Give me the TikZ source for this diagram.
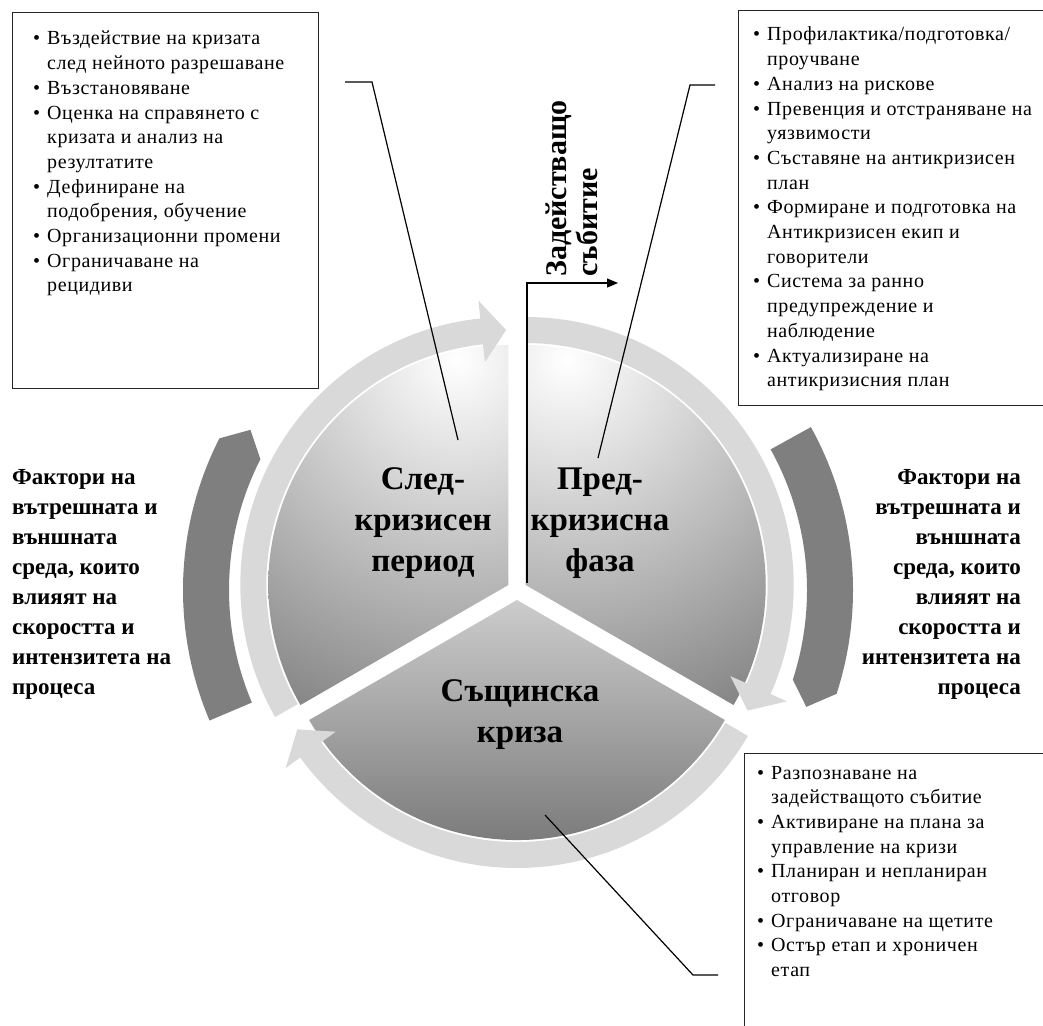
\documentclass[tikz,border=0pt]{standalone}
\usepackage{fontspec}
\setmainfont{Liberation Serif}
\newfontfamily\listfont[LetterSpace=3]{Liberation Serif}
\usetikzlibrary{arrows.meta,calc}

\definecolor{ringgray}{HTML}{D9D9D9}
\definecolor{arcgray}{HTML}{7F7F7F}

\newcommand{\bl}{\par\hangindent=14pt\hangafter=1\noindent\makebox[14pt][l]{\textbullet}}

\tikzset{
  listbox/.style={draw=black!85, line width=1.4pt, inner sep=0pt, anchor=north west},
  bulletlist/.style={inner sep=0pt, anchor=base west, font=\listfont\fontsize{20}{24.7}\selectfont},
  phaselabel/.style={inner sep=0pt, anchor=base, font=\fontsize{33}{41}\selectfont\bfseries},
  factortext/.style={inner sep=0pt, font=\fontsize{23}{30}\selectfont\bfseries},
  leader/.style={line width=1.2pt},
  ring/.style={fill=ringgray},
  darkarc/.style={fill=arcgray},
}

\begin{document}
\begin{tikzpicture}[x=1pt, y=1pt]
  \clip (0,0) rectangle (1043,-1025);
  \fill[white] (0,0) rectangle (1043,-1025);

  % centre of the cycle and of the three pieces
  \coordinate (c) at (517,-590);
  \coordinate (cpost) at (508.3,-585);
  \coordinate (cpre) at (525.7,-585);
  \coordinate (ccrisis) at (517,-600);

  % outer dark arcs
  \begin{scope}[shift={(c)}]
    \fill[darkarc] (203:334) arc[start angle=203, end angle=153, radius=334]
      -- (149:311) -- (153:288) arc[start angle=153, end angle=203, radius=288] -- cycle;
    \fill[darkarc] (29:336) arc[start angle=29, end angle=-18, radius=336]
      -- (-22:312) -- (-18:290) arc[start angle=-18, end angle=29, radius=290] -- cycle;
  \end{scope}

  % post-crisis piece
  \begin{scope}
    \clip (cpost) -- ++(90:240) arc[start angle=90, end angle=210, radius=240] -- cycle;
    \shade[inner color=white, outer color=black!50] ($(c)+(-60,230)$) circle (400);
  \end{scope}
  \begin{scope}[shift={(cpost)}]
    \fill[ring] (209.5:268) arc[start angle=209.5, end angle=96, radius=268]
      -- (96:286) -- (90.5:255) -- (96:224) -- (96:242)
      arc[start angle=96, end angle=209.5, radius=242] -- cycle;
  \end{scope}

  % pre-crisis piece
  \begin{scope}
    \clip (cpre) -- ++(-30:240) arc[start angle=-30, end angle=90, radius=240] -- cycle;
    \shade[inner color=white, outer color=black!50] ($(c)+(50,230)$) circle (400);
  \end{scope}
  \begin{scope}[shift={(cpre)}]
    \fill[ring] (89.5:268) arc[start angle=89.5, end angle=-24, radius=268]
      -- (-24:286) -- (-29.5:255) -- (-24:224) -- (-24:242)
      arc[start angle=-24, end angle=89.5, radius=242] -- cycle;
  \end{scope}

  % crisis piece
  \begin{scope}
    \clip (ccrisis) -- ++(210:240) arc[start angle=210, end angle=330, radius=240] -- cycle;
    \shade[top color=black!20, bottom color=black!52] (270,-600) rectangle (770,-845);
  \end{scope}
  \begin{scope}[shift={(ccrisis)}]
    \fill[ring] (329.5:268) arc[start angle=329.5, end angle=216, radius=268]
      -- (216:286) -- (210.5:255) -- (216:224) -- (216:242)
      arc[start angle=216, end angle=329.5, radius=242] -- cycle;
  \end{scope}

  % phase labels
  \node (postlabel) [phaselabel] at (423,-489) {\begin{minipage}[t]{180pt}\centering
    След-\\кризисен\\период\end{minipage}};
  \node (prelabel) [phaselabel] at (600,-489) {\begin{minipage}[t]{180pt}\centering
    Пред-\\кризисна\\фаза\end{minipage}};
  \node (crisislabel) [phaselabel] at (520,-701) {\begin{minipage}[t]{220pt}\centering
    Същинска\\криза\end{minipage}};

  % factors on both sides
  \node (factorsleft) [factortext, anchor=base west] at (12,-484) {\begin{minipage}[t]{190pt}\raggedright
    Фактори на\\вътрешната и\\външната\\среда, които\\влияят на\\скоростта и\\интензитета на\\процеса\end{minipage}};
  \node (factorsright) [factortext, anchor=base east] at (1021,-484) {\begin{minipage}[t]{190pt}\raggedleft
    Фактори на\\вътрешната и\\външната\\среда, които\\влияят на\\скоростта и\\интензитета на\\процеса\end{minipage}};

  % trigger event
  \coordinate (trigger-a) at (527,-583);
  \coordinate (trigger-b) at (618,-283);
  \draw[leader, -{Triangle[length=11pt, width=9pt]}] (trigger-a) |- (trigger-b);
  \node (triggertext) [rotate=90, anchor=base west, inner sep=0pt, font=\fontsize{30}{31}\selectfont\bfseries]
    at (566,-277) {\begin{minipage}[t]{220pt}\raggedright Задействащо\\събитие\end{minipage}};

  % list boxes
  \node (postbox) [listbox, minimum width=306pt, minimum height=376pt] at (12,-12) {};
  \node (prebox) [listbox, minimum width=320pt, minimum height=395pt] at (738,-10) {};
  \node (crisisbox) [listbox, minimum width=320pt, minimum height=300pt] at (744,-753) {};

  \node (postlist) [bulletlist] at (33,-45) {\begin{minipage}[t]{282pt}\raggedright
    \bl Въздействие на кризата\newline след нейното разрешаване
    \bl Възстановяване
    \bl Оценка на справянето с\newline кризата и анализ на\newline резултатите
    \bl Дефиниране на\newline подобрения, обучение
    \bl Организационни промени
    \bl Ограничаване на\newline рецидиви
  \end{minipage}};

  \node (prelist) [bulletlist] at (753,-41) {\begin{minipage}[t]{300pt}\raggedright
    \bl Профилактика/подготовка/\newline проучване
    \bl Анализ на рискове
    \bl Превенция и отстраняване на\newline уязвимости
    \bl Съставяне на антикризисен\newline план
    \bl Формиране и подготовка на\newline Антикризисен екип и\newline говорители
    \bl Система за ранно\newline предупреждение и\newline наблюдение
    \bl Актуализиране на\newline антикризисния план
  \end{minipage}};

  \node (crisislist) [bulletlist] at (757,-779) {\begin{minipage}[t]{290pt}\raggedright
    \bl Разпознаване на\newline задействащото събитие
    \bl Активиране на плана за\newline управление на кризи
    \bl Планиран и непланиран\newline отговор
    \bl Ограничаване на щетите
    \bl Остър етап и хроничен\newline етап
  \end{minipage}};

  % leader lines
  \coordinate (postleader-a) at (345,-82);
  \coordinate (postleader-b) at (372,-82);
  \coordinate (postleader-c) at (458,-440);
  \draw[leader] (postleader-a) -- (postleader-b) -- (postleader-c);
  \coordinate (preleader-a) at (715,-85);
  \coordinate (preleader-b) at (690,-85);
  \coordinate (preleader-c) at (598,-458);
  \draw[leader] (preleader-a) -- (preleader-b) -- (preleader-c);
  \coordinate (crisisleader-a) at (545,-815);
  \coordinate (crisisleader-b) at (693,-975);
  \coordinate (crisisleader-c) at (718,-975);
  \draw[leader] (crisisleader-a) -- (crisisleader-b) -- (crisisleader-c);
\end{tikzpicture}
\end{document}
